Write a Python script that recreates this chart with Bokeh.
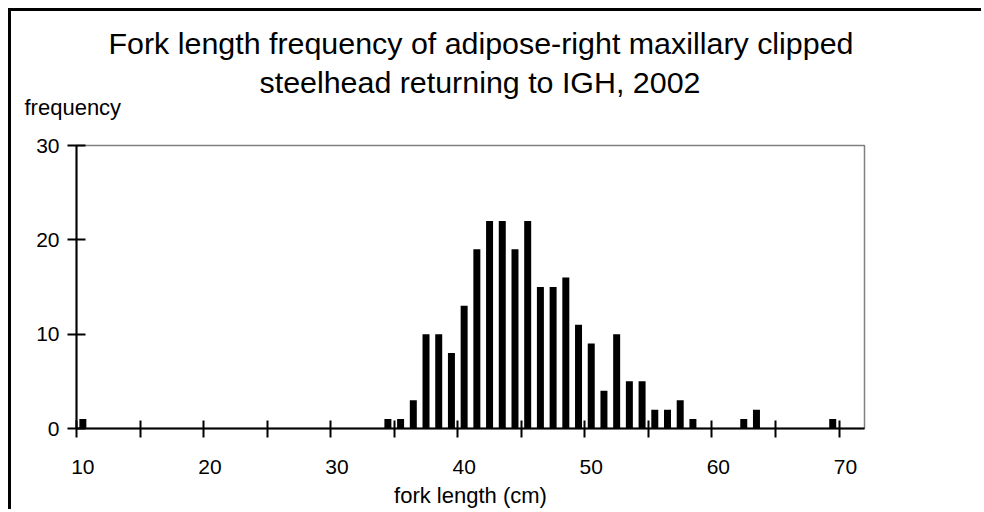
from bokeh.plotting import figure
from bokeh.models import FixedTicker, Title, Range1d
from bokeh.embed import file_html
from bokeh.resources import INLINE

# Data (fork length category, cm -> count)
fork_length = [10, 34, 35, 36, 37, 38, 39, 40, 41, 42, 43, 44, 45, 46, 47, 48,
               49, 50, 51, 52, 53, 54, 55, 56, 57, 58, 62, 63, 69]
frequency = [1, 1, 1, 3, 10, 10, 8, 13, 19, 22, 22, 19, 22, 15, 15, 16,
             11, 9, 4, 10, 5, 5, 2, 2, 3, 1, 1, 2, 1]
x_tick_labels = [10, 20, 30, 40, 50, 60, 70]
x_tick_marks = [10, 15, 20, 25, 30, 35, 40, 45, 50, 55, 60, 65, 70]
y_ticks = [0, 10, 20, 30]
title_lines = ["Fork length frequency of adipose-right maxillary clipped",
               "steelhead returning to IGH, 2002"]

FONT = "Liberation Sans"

p = figure(width=973, height=501, output_backend="svg", toolbar_location=None,
           x_range=Range1d(10, 72), y_range=Range1d(0, 30),
           min_border_left=65, min_border_right=120, min_border_top=134,
           min_border_bottom=84)
p.styles = {"border-left": "3px solid black", "border-top": "3px solid black",
            "margin-left": "8px", "margin-top": "8px"}

p.background_fill_color = "white"
p.border_fill_color = "white"
p.outline_line_color = "#808080"
p.outline_line_width = 1.5
p.xgrid.grid_line_color = None
p.ygrid.grid_line_color = None

# bars centred in their 1 cm category
centers = [v + 0.5 for v in fork_length]
p.vbar(x=centers, top=frequency, bottom=0, width=0.55,
       fill_color="black", line_color=None)

# x axis: labels at category centres, tick marks at category boundaries
xa = p.xaxis[0]
xa.ticker = FixedTicker(ticks=[v + 0.5 for v in x_tick_labels], minor_ticks=x_tick_marks)
xa.major_label_overrides = {v + 0.5: str(v) for v in x_tick_labels}
xa.major_tick_line_color = None
xa.major_tick_in = 0
xa.major_tick_out = 0
xa.minor_tick_line_color = "black"
xa.minor_tick_line_width = 2
xa.minor_tick_in = 8
xa.minor_tick_out = 9
xa.axis_line_color = "black"
xa.axis_line_width = 2
xa.major_label_standoff = 22
xa.major_label_text_font = FONT
xa.major_label_text_font_size = "21px"
xa.major_label_text_color = "black"
xa.axis_label = "fork length (cm)"
xa.axis_label_text_font = FONT
xa.axis_label_text_font_size = "22px"
xa.axis_label_text_font_style = "normal"
xa.axis_label_text_color = "black"
xa.axis_label_standoff = 6

ya = p.yaxis[0]
ya.ticker = FixedTicker(ticks=y_ticks)
ya.minor_tick_line_color = None
ya.major_tick_line_color = "black"
ya.major_tick_line_width = 2
ya.major_tick_in = 9
ya.major_tick_out = 9
ya.axis_line_color = "black"
ya.axis_line_width = 2
ya.major_label_standoff = 8
ya.major_label_text_font = FONT
ya.major_label_text_font_size = "21px"
ya.major_label_text_color = "black"

# titles (stacked from the frame outward)
p.add_layout(Title(text="frequency", align="left", offset=-52, standoff=51,
                   text_font=FONT, text_font_size="22px", text_font_style="normal",
                   text_color="black"), "above")
p.add_layout(Title(text=title_lines[1], align="left", offset=183,
                   text_font=FONT, text_font_size="30.4px", text_font_style="normal",
                   text_color="black", standoff=-62), "above")
p.add_layout(Title(text=title_lines[0], align="left", offset=32,
                   text_font=FONT, text_font_size="30.4px", text_font_style="normal",
                   text_color="black", standoff=16), "above")

open("out.html", "w").write(file_html(p, INLINE))
